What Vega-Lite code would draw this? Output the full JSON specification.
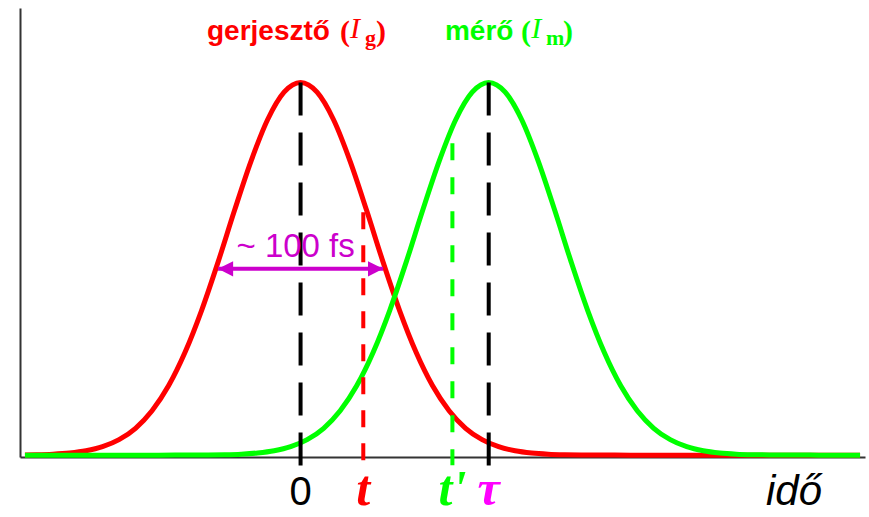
{
  "$schema": "https://vega.github.io/schema/vega-lite/v6.json",
  "width": 845,
  "height": 449,
  "autosize": {"type": "none"},
  "padding": {"left": 20, "top": 8, "right": 4, "bottom": 60},
  "background": "white",
  "config": {"view": {"stroke": null}},
  "datasets": {
    "pulses": [
      {"pulse": "gerjesztő", "time": -167, "level": 0.0007},
      {"pulse": "gerjesztő", "time": -160, "level": 0.0012},
      {"pulse": "gerjesztő", "time": -150, "level": 0.0027},
      {"pulse": "gerjesztő", "time": -140, "level": 0.0058},
      {"pulse": "gerjesztő", "time": -130, "level": 0.0117},
      {"pulse": "gerjesztő", "time": -120, "level": 0.0226},
      {"pulse": "gerjesztő", "time": -110, "level": 0.0415},
      {"pulse": "gerjesztő", "time": -100, "level": 0.0721},
      {"pulse": "gerjesztő", "time": -90, "level": 0.119},
      {"pulse": "gerjesztő", "time": -80, "level": 0.186},
      {"pulse": "gerjesztő", "time": -70, "level": 0.276},
      {"pulse": "gerjesztő", "time": -60, "level": 0.388},
      {"pulse": "gerjesztő", "time": -50, "level": 0.518},
      {"pulse": "gerjesztő", "time": -40, "level": 0.657},
      {"pulse": "gerjesztő", "time": -30, "level": 0.789},
      {"pulse": "gerjesztő", "time": -20, "level": 0.9},
      {"pulse": "gerjesztő", "time": -10, "level": 0.974},
      {"pulse": "gerjesztő", "time": 0, "level": 1},
      {"pulse": "gerjesztő", "time": 10, "level": 0.974},
      {"pulse": "gerjesztő", "time": 20, "level": 0.9},
      {"pulse": "gerjesztő", "time": 30, "level": 0.789},
      {"pulse": "gerjesztő", "time": 40, "level": 0.657},
      {"pulse": "gerjesztő", "time": 50, "level": 0.518},
      {"pulse": "gerjesztő", "time": 60, "level": 0.388},
      {"pulse": "gerjesztő", "time": 70, "level": 0.276},
      {"pulse": "gerjesztő", "time": 80, "level": 0.186},
      {"pulse": "gerjesztő", "time": 90, "level": 0.119},
      {"pulse": "gerjesztő", "time": 100, "level": 0.0721},
      {"pulse": "gerjesztő", "time": 110, "level": 0.0415},
      {"pulse": "gerjesztő", "time": 120, "level": 0.0226},
      {"pulse": "gerjesztő", "time": 130, "level": 0.0117},
      {"pulse": "gerjesztő", "time": 140, "level": 0.0058},
      {"pulse": "gerjesztő", "time": 150, "level": 0.0027},
      {"pulse": "gerjesztő", "time": 160, "level": 0.0012},
      {"pulse": "gerjesztő", "time": 170, "level": 0.0005},
      {"pulse": "gerjesztő", "time": 180, "level": 0.0002},
      {"pulse": "gerjesztő", "time": 190, "level": 0.0001},
      {"pulse": "gerjesztő", "time": 200, "level": 0},
      {"pulse": "gerjesztő", "time": 339, "level": 0},
      {"pulse": "mérő", "time": -167, "level": 0},
      {"pulse": "mérő", "time": -86, "level": 0},
      {"pulse": "mérő", "time": -76, "level": 0.0001},
      {"pulse": "mérő", "time": -66, "level": 0.0002},
      {"pulse": "mérő", "time": -56, "level": 0.0005},
      {"pulse": "mérő", "time": -46, "level": 0.0012},
      {"pulse": "mérő", "time": -36, "level": 0.0027},
      {"pulse": "mérő", "time": -26, "level": 0.0058},
      {"pulse": "mérő", "time": -16, "level": 0.0117},
      {"pulse": "mérő", "time": -6, "level": 0.0226},
      {"pulse": "mérő", "time": 4, "level": 0.0415},
      {"pulse": "mérő", "time": 14, "level": 0.0721},
      {"pulse": "mérő", "time": 24, "level": 0.119},
      {"pulse": "mérő", "time": 34, "level": 0.186},
      {"pulse": "mérő", "time": 44, "level": 0.276},
      {"pulse": "mérő", "time": 54, "level": 0.388},
      {"pulse": "mérő", "time": 64, "level": 0.518},
      {"pulse": "mérő", "time": 74, "level": 0.657},
      {"pulse": "mérő", "time": 84, "level": 0.789},
      {"pulse": "mérő", "time": 94, "level": 0.9},
      {"pulse": "mérő", "time": 104, "level": 0.974},
      {"pulse": "mérő", "time": 114, "level": 1},
      {"pulse": "mérő", "time": 124, "level": 0.974},
      {"pulse": "mérő", "time": 134, "level": 0.9},
      {"pulse": "mérő", "time": 144, "level": 0.789},
      {"pulse": "mérő", "time": 154, "level": 0.657},
      {"pulse": "mérő", "time": 164, "level": 0.518},
      {"pulse": "mérő", "time": 174, "level": 0.388},
      {"pulse": "mérő", "time": 184, "level": 0.276},
      {"pulse": "mérő", "time": 194, "level": 0.186},
      {"pulse": "mérő", "time": 204, "level": 0.119},
      {"pulse": "mérő", "time": 214, "level": 0.0721},
      {"pulse": "mérő", "time": 224, "level": 0.0415},
      {"pulse": "mérő", "time": 234, "level": 0.0226},
      {"pulse": "mérő", "time": 244, "level": 0.0117},
      {"pulse": "mérő", "time": 254, "level": 0.0058},
      {"pulse": "mérő", "time": 264, "level": 0.0027},
      {"pulse": "mérő", "time": 274, "level": 0.0012},
      {"pulse": "mérő", "time": 284, "level": 0.0005},
      {"pulse": "mérő", "time": 294, "level": 0.0002},
      {"pulse": "mérő", "time": 304, "level": 0.0001},
      {"pulse": "mérő", "time": 314, "level": 0},
      {"pulse": "mérő", "time": 339, "level": 0}
    ],
    "markers": [
      {"name": "0", "time": 0, "top": 1, "bottom": -0.032},
      {"name": "t", "time": 38, "top": 0.652, "bottom": -0.032},
      {"name": "t'", "time": 92, "top": 0.837, "bottom": -0.027},
      {"name": "τ", "time": 114, "top": 1, "bottom": -0.032}
    ],
    "width": [
      {"label": "~ 100 fs", "from": -50, "to": 50, "level": 0.5}
    ]
  },
  "layer": [
    {
      "data": {"name": "pulses"},
      "transform": [{"filter": "datum.pulse === 'gerjesztő'"}],
      "mark": {"type": "line", "color": "#ff0000", "strokeWidth": 5, "interpolate": "monotone"},
      "encoding": {
        "x": {"field": "time", "type": "quantitative", "title": null, "scale": {"domain": [-170, 342], "nice": false, "zero": false}, "axis": {"labels": false, "ticks": false, "grid": false, "domainColor": "#333333", "domainWidth": 2}},
        "y": {"field": "level", "type": "quantitative", "title": null, "scale": {"domain": [-0.005, 1.2], "nice": false, "zero": false}, "axis": {"labels": false, "ticks": false, "grid": false, "domainColor": "#333333", "domainWidth": 2}}
      }
    },
    {
      "data": {"name": "pulses"},
      "transform": [{"filter": "datum.pulse === 'mérő'"}],
      "mark": {"type": "line", "color": "#00ff00", "strokeWidth": 5, "interpolate": "monotone"},
      "encoding": {
        "x": {"field": "time", "type": "quantitative", "title": null, "scale": {"domain": [-170, 342], "nice": false, "zero": false}},
        "y": {"field": "level", "type": "quantitative", "title": null, "scale": {"domain": [-0.005, 1.2], "nice": false, "zero": false}}
      }
    },
    {
      "data": {"name": "markers"},
      "transform": [{"filter": "datum.name === '0' || datum.name === 'τ'"}],
      "mark": {"type": "rule", "color": "#000000", "strokeWidth": 4, "strokeDash": [33, 17]},
      "encoding": {
        "x": {"field": "time", "type": "quantitative", "title": null, "scale": {"domain": [-170, 342], "nice": false, "zero": false}},
        "y": {"field": "top", "type": "quantitative", "title": null, "scale": {"domain": [-0.005, 1.2], "nice": false, "zero": false}},
        "y2": {"field": "bottom"}
      }
    },
    {
      "data": {"name": "markers"},
      "transform": [{"filter": "datum.name === 't'"}],
      "mark": {"type": "rule", "color": "#ff0000", "strokeWidth": 4, "strokeDash": [17, 16]},
      "encoding": {
        "x": {"field": "time", "type": "quantitative", "title": null, "scale": {"domain": [-170, 342], "nice": false, "zero": false}},
        "y": {"field": "top", "type": "quantitative", "title": null, "scale": {"domain": [-0.005, 1.2], "nice": false, "zero": false}},
        "y2": {"field": "bottom"}
      }
    },
    {
      "data": {"name": "markers"},
      "transform": [{"filter": "datum.name === \"t'\""}],
      "mark": {"type": "rule", "color": "#00ff00", "strokeWidth": 4, "strokeDash": [17, 17]},
      "encoding": {
        "x": {"field": "time", "type": "quantitative", "title": null, "scale": {"domain": [-170, 342], "nice": false, "zero": false}},
        "y": {"field": "top", "type": "quantitative", "title": null, "scale": {"domain": [-0.005, 1.2], "nice": false, "zero": false}},
        "y2": {"field": "bottom"}
      }
    },
    {
      "data": {"name": "width"},
      "mark": {"type": "rule", "color": "#cc00cc", "strokeWidth": 4},
      "encoding": {
        "x": {"field": "from", "type": "quantitative", "title": null, "scale": {"domain": [-170, 342], "nice": false, "zero": false}},
        "x2": {"field": "to"},
        "y": {"field": "level", "type": "quantitative", "title": null, "scale": {"domain": [-0.005, 1.2], "nice": false, "zero": false}}
      }
    },
    {
      "data": {"name": "width"},
      "mark": {"type": "point", "shape": "M-1,0L1,-1L1,1Z", "size": 230, "filled": true, "color": "#cc00cc", "opacity": 1, "xOffset": 7.5},
      "encoding": {
        "x": {"field": "from", "type": "quantitative", "title": null, "scale": {"domain": [-170, 342], "nice": false, "zero": false}},
        "y": {"field": "level", "type": "quantitative", "title": null, "scale": {"domain": [-0.005, 1.2], "nice": false, "zero": false}}
      }
    },
    {
      "data": {"name": "width"},
      "mark": {"type": "point", "shape": "M1,0L-1,-1L-1,1Z", "size": 230, "filled": true, "color": "#cc00cc", "opacity": 1, "xOffset": -7.5},
      "encoding": {
        "x": {"field": "to", "type": "quantitative", "title": null, "scale": {"domain": [-170, 342], "nice": false, "zero": false}},
        "y": {"field": "level", "type": "quantitative", "title": null, "scale": {"domain": [-0.005, 1.2], "nice": false, "zero": false}}
      }
    },
    {
      "data": {"name": "width"},
      "mark": {"type": "text", "color": "#cc00cc", "font": "Liberation Sans", "fontSize": 33, "align": "center", "baseline": "alphabetic", "dy": -12},
      "encoding": {
        "x": {"datum": -3, "type": "quantitative", "scale": {"domain": [-170, 342], "nice": false, "zero": false}},
        "y": {"field": "level", "type": "quantitative", "title": null, "scale": {"domain": [-0.005, 1.2], "nice": false, "zero": false}},
        "text": {"field": "label"}
      }
    },
    {
      "data": {"name": "markers"},
      "transform": [{"filter": "datum.name === '0'"}],
      "mark": {"type": "text", "color": "#000000", "font": "Liberation Sans", "fontSize": 40, "align": "center", "baseline": "alphabetic"},
      "encoding": {
        "x": {"field": "time", "type": "quantitative", "title": null, "scale": {"domain": [-170, 342], "nice": false, "zero": false}},
        "y": {"datum": -0.134, "type": "quantitative", "scale": {"domain": [-0.005, 1.2], "nice": false, "zero": false}},
        "text": {"field": "name"}
      }
    },
    {
      "data": {"name": "markers"},
      "transform": [{"filter": "datum.name !== '0'"}],
      "mark": {"type": "text", "font": "Liberation Serif", "fontStyle": "italic", "fontWeight": "bold", "fontSize": 50, "align": "center", "baseline": "alphabetic"},
      "encoding": {
        "x": {"field": "time", "type": "quantitative", "title": null, "scale": {"domain": [-170, 342], "nice": false, "zero": false}},
        "y": {"datum": -0.134, "type": "quantitative", "scale": {"domain": [-0.005, 1.2], "nice": false, "zero": false}},
        "text": {"field": "name"},
        "color": {"field": "name", "type": "nominal", "legend": null, "scale": {"domain": ["t", "t'", "τ"], "range": ["#ff0000", "#00ff00", "#ff00ff"]}}
      }
    },
    {
      "data": {"values": [{"word": "idő", "time": 299}]},
      "mark": {"type": "text", "color": "#000000", "font": "Liberation Sans", "fontStyle": "italic", "fontSize": 42, "align": "center", "baseline": "alphabetic"},
      "encoding": {
        "x": {"field": "time", "type": "quantitative", "title": null, "scale": {"domain": [-170, 342], "nice": false, "zero": false}},
        "y": {"datum": -0.134, "type": "quantitative", "scale": {"domain": [-0.005, 1.2], "nice": false, "zero": false}},
        "text": {"field": "word"}
      }
    },
    {
      "data": {"values": [{"word": "gerjesztő", "time": -56.7}]},
      "mark": {"type": "text", "color": "#ff0000", "font": "Liberation Sans", "fontWeight": "bold", "fontSize": 28, "align": "left", "baseline": "alphabetic"},
      "encoding": {
        "x": {"field": "time", "type": "quantitative", "title": null, "scale": {"domain": [-170, 342], "nice": false, "zero": false}},
        "y": {"datum": 1.114, "type": "quantitative", "scale": {"domain": [-0.005, 1.2], "nice": false, "zero": false}},
        "text": {"field": "word"}
      }
    },
    {
      "data": {"values": [{"word": "mérő", "time": 87.5}]},
      "mark": {"type": "text", "color": "#00ff00", "font": "Liberation Sans", "fontWeight": "bold", "fontSize": 28, "align": "left", "baseline": "alphabetic"},
      "encoding": {
        "x": {"field": "time", "type": "quantitative", "title": null, "scale": {"domain": [-170, 342], "nice": false, "zero": false}},
        "y": {"datum": 1.114, "type": "quantitative", "scale": {"domain": [-0.005, 1.2], "nice": false, "zero": false}},
        "text": {"field": "word"}
      }
    },
    {
      "data": {"values": [{"word": "(", "time": 23.9}, {"word": ")", "time": 45.7}]},
      "mark": {"type": "text", "color": "#ff0000", "font": "Liberation Serif", "fontWeight": "bold", "fontSize": 30, "align": "left", "baseline": "alphabetic"},
      "encoding": {
        "x": {"field": "time", "type": "quantitative", "title": null, "scale": {"domain": [-170, 342], "nice": false, "zero": false}},
        "y": {"datum": 1.112, "type": "quantitative", "scale": {"domain": [-0.005, 1.2], "nice": false, "zero": false}},
        "text": {"field": "word"}
      }
    },
    {
      "data": {"values": [{"word": "(", "time": 133.6}, {"word": ")", "time": 159}]},
      "mark": {"type": "text", "color": "#00ff00", "font": "Liberation Serif", "fontWeight": "bold", "fontSize": 30, "align": "left", "baseline": "alphabetic"},
      "encoding": {
        "x": {"field": "time", "type": "quantitative", "title": null, "scale": {"domain": [-170, 342], "nice": false, "zero": false}},
        "y": {"datum": 1.112, "type": "quantitative", "scale": {"domain": [-0.005, 1.2], "nice": false, "zero": false}},
        "text": {"field": "word"}
      }
    },
    {
      "data": {"values": [{"word": "I", "time": 29.9}]},
      "mark": {"type": "text", "color": "#ff0000", "font": "Liberation Serif", "fontStyle": "italic", "fontSize": 30, "align": "left", "baseline": "alphabetic"},
      "encoding": {
        "x": {"field": "time", "type": "quantitative", "title": null, "scale": {"domain": [-170, 342], "nice": false, "zero": false}},
        "y": {"datum": 1.12, "type": "quantitative", "scale": {"domain": [-0.005, 1.2], "nice": false, "zero": false}},
        "text": {"field": "word"}
      }
    },
    {
      "data": {"values": [{"word": "I", "time": 139.7}]},
      "mark": {"type": "text", "color": "#00ff00", "font": "Liberation Serif", "fontStyle": "italic", "fontSize": 30, "align": "left", "baseline": "alphabetic"},
      "encoding": {
        "x": {"field": "time", "type": "quantitative", "title": null, "scale": {"domain": [-170, 342], "nice": false, "zero": false}},
        "y": {"datum": 1.12, "type": "quantitative", "scale": {"domain": [-0.005, 1.2], "nice": false, "zero": false}},
        "text": {"field": "word"}
      }
    },
    {
      "data": {"values": [{"word": "g", "time": 39}]},
      "mark": {"type": "text", "color": "#ff0000", "font": "Liberation Serif", "fontWeight": "bold", "fontSize": 22, "align": "left", "baseline": "alphabetic"},
      "encoding": {
        "x": {"field": "time", "type": "quantitative", "title": null, "scale": {"domain": [-170, 342], "nice": false, "zero": false}},
        "y": {"datum": 1.1, "type": "quantitative", "scale": {"domain": [-0.005, 1.2], "nice": false, "zero": false}},
        "text": {"field": "word"}
      }
    },
    {
      "data": {"values": [{"word": "m", "time": 148.7}]},
      "mark": {"type": "text", "color": "#00ff00", "font": "Liberation Serif", "fontWeight": "bold", "fontSize": 22, "align": "left", "baseline": "alphabetic"},
      "encoding": {
        "x": {"field": "time", "type": "quantitative", "title": null, "scale": {"domain": [-170, 342], "nice": false, "zero": false}},
        "y": {"datum": 1.1, "type": "quantitative", "scale": {"domain": [-0.005, 1.2], "nice": false, "zero": false}},
        "text": {"field": "word"}
      }
    }
  ]
}
